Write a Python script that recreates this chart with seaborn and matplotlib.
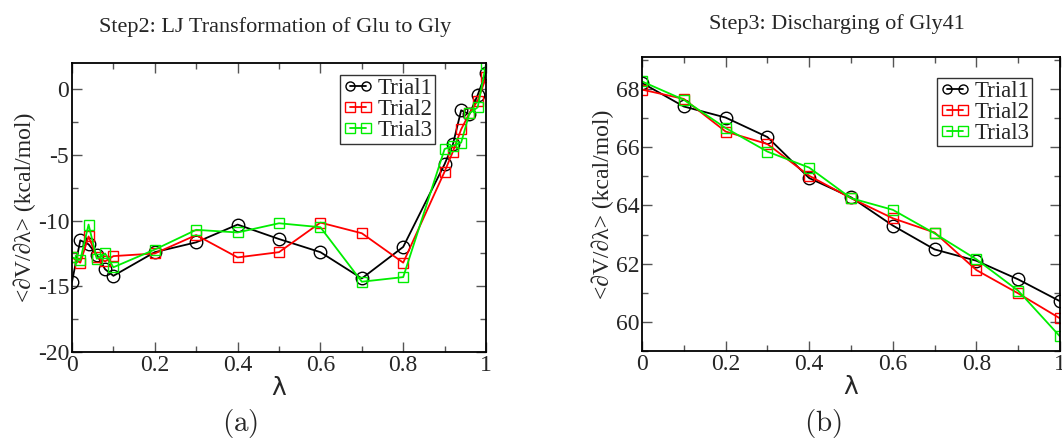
import numpy as np
import pandas as pd
import matplotlib
matplotlib.use("Agg")
from matplotlib import pyplot as plt
from matplotlib.ticker import MultipleLocator
import seaborn as sns

# Step2: LJ transformation (panel a)
lam_a = [0.0, 0.02, 0.04, 0.06, 0.08, 0.1, 0.2, 0.3, 0.4, 0.5, 0.6, 0.7, 0.8,
         0.9, 0.92, 0.94, 0.96, 0.98, 1.0]
trial1_a = [-14.65, -11.5, -11.8, -12.6, -13.7, -14.2, -12.4, -11.65, -10.3, -11.4,
            -12.4, -14.4, -12.0, -5.7, -4.2, -1.6, -1.9, -0.43, 1.27]
trial2_a = [-12.8, -13.2, -11.2, -12.8, -13.1, -12.7, -12.5, -11.1, -12.8, -12.4,
            -10.15, -10.96, -13.2, -6.27, -4.75, -3.05, -1.83, -0.86, 0.91]
trial3_a = [-12.8, -13.0, -10.3, -12.9, -12.5, -13.55, -12.2, -10.7, -10.9, -10.2,
            -10.5, -14.65, -14.3, -4.55, -4.3, -4.06, -1.83, -1.37, 1.9]

# Step3: discharging (panel b)
lam_b = [0.0, 0.1, 0.2, 0.3, 0.4, 0.5, 0.6, 0.7, 0.8, 0.9, 1.0]
trial1_b = [68.21, 67.40, 67.02, 66.35, 64.94, 64.28, 63.31, 62.49, 62.10, 61.46, 60.71]
trial2_b = [67.98, 67.66, 66.54, 66.11, 65.02, 64.25, 63.56, 63.07, 61.78, 60.98, 60.12]
trial3_b = [68.26, 67.63, 66.66, 65.85, 65.30, 64.25, 63.85, 63.04, 62.15, 61.07, 59.50]

names = ["Trial1", "Trial2", "Trial3"]
colors = ["#000000", "#ff0000", "#00ee00"]
markers = ["o", "s", "s"]

sns.set_style("ticks")
plt.rcParams["font.family"] = ["Liberation Serif", "DejaVu Serif"]
plt.rcParams["mathtext.fontset"] = "cm"
plt.rcParams["axes.unicode_minus"] = False
plt.rcParams["xtick.direction"] = "in"
plt.rcParams["ytick.direction"] = "in"

fig = plt.figure(figsize=(10.62, 4.41), dpi=100)
ax_a = fig.add_axes([72 / 1062, 1 - 352 / 441, 414 / 1062, 289 / 441])
ax_b = fig.add_axes([642 / 1062, 1 - 351 / 441, 418 / 1062, 294 / 441])


def draw(ax, lam, series, title, title_x, title_pad, ylim, ymaj, ymin, leg_anchor):
    for name, vals, c, m in zip(names, series, colors, markers):
        df = pd.DataFrame({"lam": lam, "val": vals})
        sns.lineplot(data=df, x="lam", y="val", ax=ax, color=c, marker=m,
                     markersize=9 if m == "o" else 7.5, mfc="none", mec=c, mew=1.0,
                     linewidth=1.3, label=name)
    ax.set_xlim(0, 1)
    ax.set_ylim(*ylim)
    ax.xaxis.set_major_locator(MultipleLocator(0.2))
    ax.xaxis.set_minor_locator(MultipleLocator(0.1))
    ax.yaxis.set_major_locator(MultipleLocator(ymaj))
    ax.yaxis.set_minor_locator(MultipleLocator(ymin))
    ax.xaxis.set_major_formatter(lambda v, p: "%g" % round(v, 2))
    ax.tick_params(which="both", top=True, right=True, direction="in",
                   labelsize=17, color="#555555", pad=2)
    ax.tick_params(which="major", length=7, width=1.0)
    ax.tick_params(which="minor", length=4, width=1.0)
    for s in ax.spines.values():
        s.set_linewidth(1.3)
        s.set_color("black")
    ax.set_xlabel("λ", fontsize=18, family="DejaVu Sans", labelpad=0)
    ax.set_ylabel("<∂V/∂λ> (kcal/mol)", fontsize=17, labelpad=1)
    ax.set_title(title, fontsize=16, pad=title_pad, x=title_x)
    leg = ax.legend(loc="upper right", bbox_to_anchor=leg_anchor, fontsize=16.5,
                    numpoints=2, handlelength=1.3, handletextpad=0.2,
                    borderpad=0.12, labelspacing=0.0, borderaxespad=0,
                    fancybox=False, framealpha=1)
    leg.get_frame().set_edgecolor("#333333")
    leg.get_frame().set_linewidth(1.0)
    for line in leg.get_lines():
        line.set_markersize(6.5)


draw(ax_a, lam_a, [trial1_a, trial2_a, trial3_a],
     "Step2: LJ Transformation of Glu to Gly", 0.49, 22,
     (-20, 2), 5, 2.5, (0.877, 0.958))
draw(ax_b, lam_b, [trial1_b, trial2_b, trial3_b],
     "Step3: Discharging of Gly41", 0.466, 20,
     (59, 69.1), 2, 1, (0.933, 0.929))

fig.text(240 / 1062, 1 - 423 / 441, r"$\mathrm{(a)}$", fontsize=21, ha="center", va="center")
fig.text(823 / 1062, 1 - 423 / 441, r"$\mathrm{(b)}$", fontsize=21, ha="center", va="center")

fig.savefig("out.png", dpi=100)
